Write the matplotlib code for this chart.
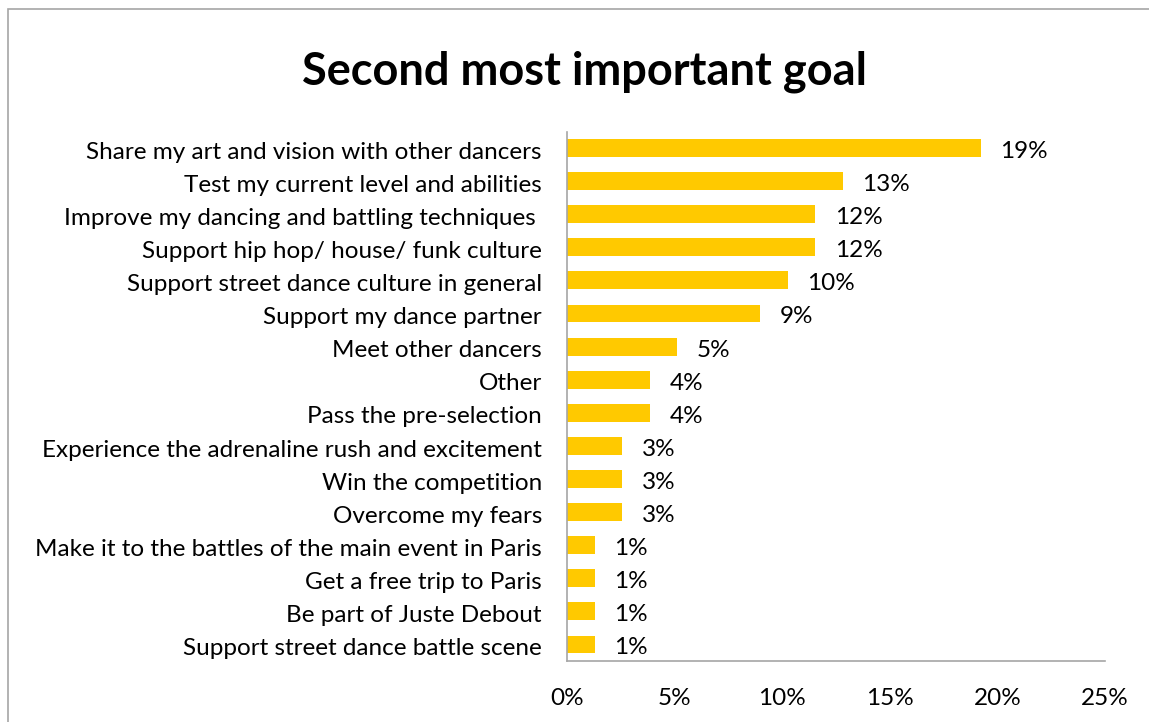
import matplotlib
matplotlib.use("Agg")
import matplotlib.pyplot as plt
from matplotlib.patches import Rectangle
from matplotlib.transforms import ScaledTranslation

# Survey answers, top to bottom
categories = [
    "Share my art and vision with other dancers",
    "Test my current level and abilities",
    "Improve my dancing and battling techniques ",
    "Support hip hop/ house/ funk culture",
    "Support street dance culture in general",
    "Support my dance partner",
    "Meet other dancers",
    "Other",
    "Pass the pre-selection",
    "Experience the adrenaline rush and excitement",
    "Win the competition",
    "Overcome my fears",
    "Make it to the battles of the main event in Paris",
    "Get a free trip to Paris",
    "Be part of Juste Debout",
    "Support street dance battle scene",
]
shares = [19.23, 12.82, 11.54, 11.54, 10.26, 8.97, 5.13, 3.85, 3.85,
          2.56, 2.56, 2.56, 1.28, 1.28, 1.28, 1.28]
x_ticks = [0, 5, 10, 15, 20, 25]
x_tick_labels = ["0%", "5%", "10%", "15%", "20%", "25%"]

plt.rcParams["font.family"] = ["Lato", "DejaVu Sans"]

W, H = 1149, 722
fig = plt.figure(figsize=(W / 100, H / 100), dpi=100)
fig.patch.set_facecolor("white")

# outer chart frame (continues past the right and bottom edges)
fig.patches.append(Rectangle((8 / W, -0.05), 1.2, 1 - 9 / H + 0.05,
                             transform=fig.transFigure, fill=False,
                             edgecolor="#a6a6a6", linewidth=1.2))

ax = fig.add_axes([567 / W, 1 - 661 / H, (1105 - 567) / W, (661 - 131.5) / H])

ypos = list(range(len(categories)))
ax.barh(ypos, shares, height=0.54, color="#FFC900", edgecolor="none")
ax.set_ylim(len(categories) - 0.5, -0.5)
ax.set_xlim(0, 25)

for y, v in zip(ypos, shares):
    ax.annotate(f"{v:.0f}%", xy=(v, y), xytext=(14, -2.5), textcoords="offset points",
                ha="left", va="center", fontsize=17.5, color="black")

ax.set_yticks(ypos)
ax.set_yticklabels(categories, fontsize=17.5, va="center")
ax.set_xticks(x_ticks)
ax.set_xticklabels(x_tick_labels, fontsize=17.5)
ax.tick_params(axis="y", length=0, pad=18)
ax.tick_params(axis="x", length=0, pad=19.5)

# nudge category labels slightly below the bar centres
shift = ScaledTranslation(0, -3 / 72, fig.dpi_scale_trans)
for lbl in ax.get_yticklabels():
    lbl.set_transform(lbl.get_transform() + shift)

for side in ("top", "right"):
    ax.spines[side].set_visible(False)
for side in ("left", "bottom"):
    ax.spines[side].set_color("#a6a6a6")
    ax.spines[side].set_linewidth(1.2)

fig.text(584 / W, 1 - 72 / H, "Second most important goal", ha="center", va="center",
         fontsize=32.5, fontweight="bold", color="black")

fig.savefig("out.png", dpi=100)
